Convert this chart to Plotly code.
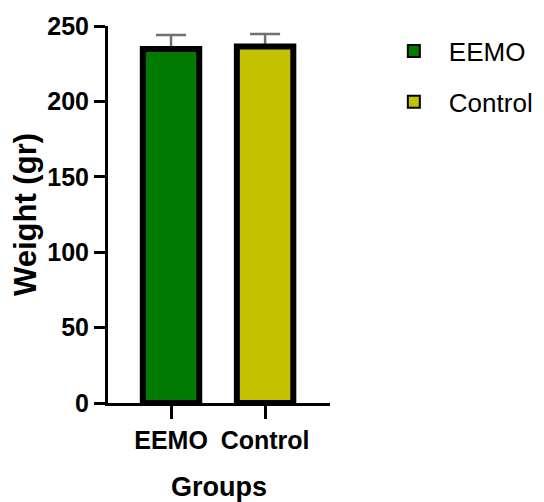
import plotly.graph_objects as go

groups = ["EEMO", "Control"]
weights = [234.7, 236.4]
errors = [9.3, 8.3]
colors = ["#007A00", "#C2C200"]

fig = go.Figure()
# error bars (drawn underneath the bars so the lower cap is hidden by the bar border)
fig.add_trace(go.Scatter(
    x=groups, y=weights, mode="markers", marker=dict(size=0.1, opacity=0),
    error_y=dict(type="data", array=errors, arrayminus=[0, 0], symmetric=False,
                 color="#707070", thickness=2.5, width=15),
    showlegend=False, hoverinfo="skip",
))
fig.add_trace(go.Bar(
    x=groups, y=weights, width=0.6, xaxis="x2", yaxis="y2",
    marker=dict(color=colors, line=dict(color="black", width=6)),
    showlegend=False,
))
for g, c in zip(groups, colors):
    fig.add_trace(go.Scatter(
        x=[None], y=[None], mode="markers", name=g, legendgroup=g,
        marker=dict(symbol="square", size=12, color=c, line=dict(color="black", width=5)),
    ))

fig.update_layout(
    width=536, height=494,
    margin=dict(l=100, r=214, t=18, b=99, autoexpand=False),
    plot_bgcolor="white", paper_bgcolor="white",
    font=dict(family="Liberation Sans, Arial", color="black"),
    legend=dict(x=1.22, y=0.996, xanchor="left", yanchor="top",
                font=dict(size=26, color="black"), tracegroupgap=14,
                itemsizing="constant", itemwidth=60),
    xaxis=dict(
        range=[-0.67, 1.69], showline=True, linecolor="black", linewidth=3,
        ticks="outside", ticklen=13, tickwidth=3, tickcolor="black", tickangle=0,
        tickfont=dict(size=25, family="Liberation Sans, Arial", weight="bold"),
        title=dict(text="Groups", font=dict(size=27, weight="bold"), standoff=26),
        showgrid=False, zeroline=False, automargin=False,
    ),
    yaxis=dict(
        range=[0, 250], tickvals=[0, 50, 100, 150, 200, 250],
        showline=True, linecolor="black", linewidth=3,
        ticks="outside", ticklen=11, tickwidth=3, tickcolor="black",
        tickfont=dict(size=25, family="Liberation Sans, Arial", weight="bold"),
        title=dict(text="Weight (gr)", font=dict(size=31, weight="bold"), standoff=5),
        showgrid=False, zeroline=False, automargin=False,
    ),
    xaxis2=dict(overlaying="x", matches="x", visible=False),
    yaxis2=dict(overlaying="y", matches="y", visible=False),
)

fig.write_html("out.html")
